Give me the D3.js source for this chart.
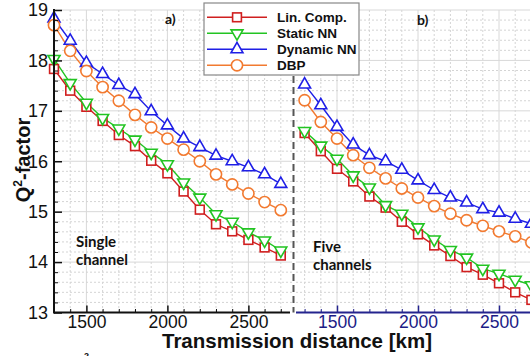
<!DOCTYPE html>
<html><head><meta charset="utf-8">
<script src="https://cdn.jsdelivr.net/npm/d3@7"></script>
<style>body{margin:0;background:#fff}svg{display:block}</style>
</head><body><svg id="c" width="530" height="356"></svg>
<script>
// ---------- data ----------
const distances = [1300,1400,1500,1600,1700,1800,1900,2000,2100,2200,2300,2400,2500,2600,2700];
const yTicks = [13,14,15,16,17,18,19];
const xTicks = [1500,2000,2500];
const seriesNames = ["Lin. Comp.","Static NN","Dynamic NN","DBP"];

// a) single channel
const singleLin     = [17.83,17.40,17.08,16.80,16.52,16.30,16.01,15.76,15.40,15.04,14.75,14.61,14.44,14.29,14.13];
const singleStatic  = [18.03,17.55,17.16,16.86,16.65,16.43,16.17,15.94,15.58,15.28,14.95,14.80,14.59,14.43,14.23];
const singleDynamic = [18.83,18.39,17.95,17.73,17.51,17.33,16.99,16.71,16.45,16.28,16.11,16.00,15.88,15.74,15.55];
const singleDBP     = [18.70,18.19,17.79,17.47,17.20,16.92,16.67,16.45,16.23,16.00,15.74,15.54,15.36,15.19,15.03];

// b) five channels
const fiveLin     = [16.56,16.20,15.85,15.60,15.30,15.08,14.80,14.55,14.33,14.12,13.90,13.75,13.58,13.40,13.25];
const fiveStatic  = [16.60,16.31,16.05,15.72,15.48,15.13,14.96,14.69,14.45,14.24,14.09,13.87,13.77,13.65,13.54];
const fiveDynamic = [17.52,17.11,16.68,16.33,16.12,16.00,15.83,15.62,15.43,15.28,15.18,15.05,14.98,14.86,14.76];
const fiveDBP     = [17.21,16.78,16.45,16.12,15.87,15.66,15.46,15.28,15.11,14.96,14.83,14.72,14.61,14.51,14.39];

// ---------- styles ----------
const colors = ["#d01f1f","#22c422","#1f1fe6","#f27a30"];
const shapes = ["square","down","up","circle"];

const svg = d3.select("#c");
const yTop = 10, yBot = 312.5;
const y = d3.scaleLinear().domain([13,19]).range([yBot,yTop]);
const xL = d3.scaleLinear().domain([1300,2700]).range([54,280.8]);
const xR = d3.scaleLinear().domain([1300,2700]).range([304.6,531.4]);

const panels = [
  {x:xL, x0:54, x1:292, series:[singleLin,singleStatic,singleDynamic,singleDBP], axisColor:"#111", labelColor:"#111"},
  {x:xR, x0:296, x1:530, series:[fiveLin,fiveStatic,fiveDynamic,fiveDBP], axisColor:"#24248e", labelColor:"#1c1c86"}
];

const minorY = y.ticks(30);
const minorX = d3.range(1200, 2801, 100);

// grids
panels.forEach(p => {
  const g = svg.append("g");
  minorX.forEach(v => {
    const px = p.x(v);
    if (px <= p.x0 + 0.5 || px >= p.x1) return;
    const major = v % 500 === 0;
    g.append("line").attr("x1",px).attr("x2",px).attr("y1",yTop).attr("y2",yBot)
      .attr("stroke", major ? "#d8d8d8" : "#d4d4d4").attr("stroke-width",1)
      .attr("stroke-dasharray", major ? null : "2,2");
  });
  minorY.forEach(v => {
    if (v <= 13) return;
    const py = y(v);
    const major = Math.abs(v - Math.round(v)) < 1e-6;
    g.append("line").attr("x1",p.x0).attr("x2",p.x1).attr("y1",py).attr("y2",py)
      .attr("stroke", major ? "#d8d8d8" : "#d4d4d4").attr("stroke-width",1)
      .attr("stroke-dasharray", major ? null : "2,2");
  });
});

// separator dashed line
svg.append("line").attr("x1",293.5).attr("x2",293.5).attr("y1",yTop).attr("y2",yBot)
  .attr("stroke","#555").attr("stroke-width",2).attr("stroke-dasharray","7,4");

// marker drawing
function marker(sel, shape, color) {
  if (shape === "circle") {
    sel.append("circle").attr("r",5.6).attr("fill","#fff").attr("stroke",color).attr("stroke-width",1.6);
  } else if (shape === "square") {
    sel.append("rect").attr("x",-4.4).attr("y",-4.4).attr("width",8.8).attr("height",8.8)
      .attr("fill","#fff").attr("stroke",color).attr("stroke-width",1.6);
  } else {
    const p = d3.symbol(d3.symbolTriangle, 62)();
    sel.append("path").attr("d",p).attr("transform", shape === "down" ? "rotate(180)" : null)
      .attr("fill","#fff").attr("stroke",color).attr("stroke-width",1.6);
  }
}

// series
panels.forEach(p => {
  const clipId = "clip" + p.x0;
  svg.append("clipPath").attr("id",clipId).append("rect")
    .attr("x",p.x0-8).attr("y",0).attr("width",p.x1-p.x0+16).attr("height",356);
  const g = svg.append("g").attr("clip-path",`url(#${clipId})`);
  p.series.forEach((vals, i) => {
    const line = d3.line().x((d,j)=>p.x(distances[j])).y(d=>y(d));
    g.append("path").datum(vals).attr("d",line).attr("fill","none")
      .attr("stroke",colors[i]).attr("stroke-width",1.4);
  });
  p.series.forEach((vals, i) => {
    vals.forEach((v,j) => {
      const m = g.append("g").attr("transform",`translate(${p.x(distances[j])},${y(v)})`);
      marker(m, shapes[i], colors[i]);
    });
  });
});

// y axis
const yAxisG = svg.append("g").attr("transform","translate(54,0)");
yAxisG.call(d3.axisLeft(y).tickValues(yTicks).tickFormat(d3.format("d")).tickSizeInner(-8).tickSizeOuter(0).tickPadding(6));
yAxisG.select(".domain").remove();
yAxisG.selectAll(".tick line").attr("stroke","#111").attr("stroke-width",1.5);
yAxisG.selectAll("text").attr("font-family","Liberation Sans, Arial, sans-serif").attr("font-size",18).attr("fill","#111");
const yMinor = svg.append("g").attr("transform","translate(54,0)");
yMinor.call(d3.axisLeft(y).tickValues(minorY.filter(v=>Math.abs(v-Math.round(v))>1e-6)).tickSizeInner(-4).tickSizeOuter(0).tickFormat(""));
yMinor.select(".domain").remove();
yMinor.selectAll(".tick line").attr("stroke","#111").attr("stroke-width",1);
svg.append("line").attr("x1",54).attr("x2",54).attr("y1",yTop-1).attr("y2",yBot+1).attr("stroke","#111").attr("stroke-width",2);

// x axes
panels.forEach(p => {
  const g = svg.append("g").attr("transform",`translate(0,${yBot})`);
  g.call(d3.axisBottom(p.x).tickValues(xTicks).tickFormat(d3.format("d")).tickSizeInner(-7).tickSizeOuter(0).tickPadding(3));
  g.select(".domain").remove();
  g.selectAll(".tick line").attr("stroke",p.axisColor).attr("stroke-width",1.5);
  g.selectAll("text").attr("font-family","Liberation Sans, Arial, sans-serif").attr("font-size",17.5).attr("fill",p.labelColor);
  const gm = svg.append("g").attr("transform",`translate(0,${yBot})`);
  gm.call(d3.axisBottom(p.x).tickValues(minorX.filter(v=>v%500!==0 && p.x(v)>p.x0 && p.x(v)<p.x1)).tickSizeInner(-3.5).tickSizeOuter(0).tickFormat(""));
  gm.select(".domain").remove();
  gm.selectAll(".tick line").attr("stroke",p.axisColor).attr("stroke-width",1);
  svg.append("line").attr("x1",p.x0).attr("x2",p.x1 - (p.x0===54?2:0)).attr("y1",yBot).attr("y2",yBot)
    .attr("stroke",p.axisColor).attr("stroke-width",2);
});

// axis titles
svg.append("text").attr("x",297).attr("y",348).attr("text-anchor","middle")
  .attr("font-family","Liberation Sans, Arial, sans-serif").attr("font-weight","bold").attr("font-size",20.5)
  .attr("fill","#111").text("Transmission distance [km]");
const yt = svg.append("text").attr("transform","translate(30,160) rotate(-90)").attr("text-anchor","middle")
  .attr("font-family","Liberation Sans, Arial, sans-serif").attr("font-weight","bold").attr("font-size",20).attr("fill","#111");
yt.append("tspan").text("Q");
yt.append("tspan").attr("font-size",12).attr("dy",-8).text("2");
yt.append("tspan").attr("dy",8).text("-factor");

// panel labels
const labFamily = "Lato, 'Open Sans', sans-serif";
svg.append("text").attr("x",165).attr("y",24).attr("font-family",labFamily).attr("font-weight","bold").attr("font-size",14).attr("fill","#111").text("a)");
svg.append("text").attr("x",417).attr("y",25).attr("font-family",labFamily).attr("font-weight","bold").attr("font-size",14).attr("fill","#111").text("b)");
[["Single",76,247],["channel",76,265],["Five",313,252],["channels",313,270]].forEach(d=>{
  svg.append("text").attr("x",d[1]).attr("y",d[2]).attr("font-family",labFamily).attr("font-weight","bold")
    .attr("font-size",15).attr("fill","#111").text(d[0]);
});

// legend
const lg = svg.append("g");
lg.append("rect").attr("x",204).attr("y",3).attr("width",155).attr("height",72)
  .attr("fill","#fff").attr("stroke","#888").attr("stroke-width",1.2);
seriesNames.forEach((name,i) => {
  const ly = 17.3 + i*16;
  lg.append("line").attr("x1",207).attr("x2",267).attr("y1",ly).attr("y2",ly).attr("stroke",colors[i]).attr("stroke-width",1.6);
  const m = lg.append("g").attr("transform",`translate(237,${ly})`);
  marker(m, shapes[i], colors[i]);
  lg.append("text").attr("x",277).attr("y",ly+5).attr("font-family","Liberation Sans, Arial, sans-serif")
    .attr("font-weight","bold").attr("font-size",13.5).attr("fill","#111").text(name);
});

// caption fragment at bottom edge (cut off in the reference too)
svg.append("text").attr("x",84).attr("y",359).attr("font-family","Liberation Sans, Arial, sans-serif")
  .attr("font-weight","bold").attr("font-size",9).attr("fill","#111").text("2");
</script></body></html>
